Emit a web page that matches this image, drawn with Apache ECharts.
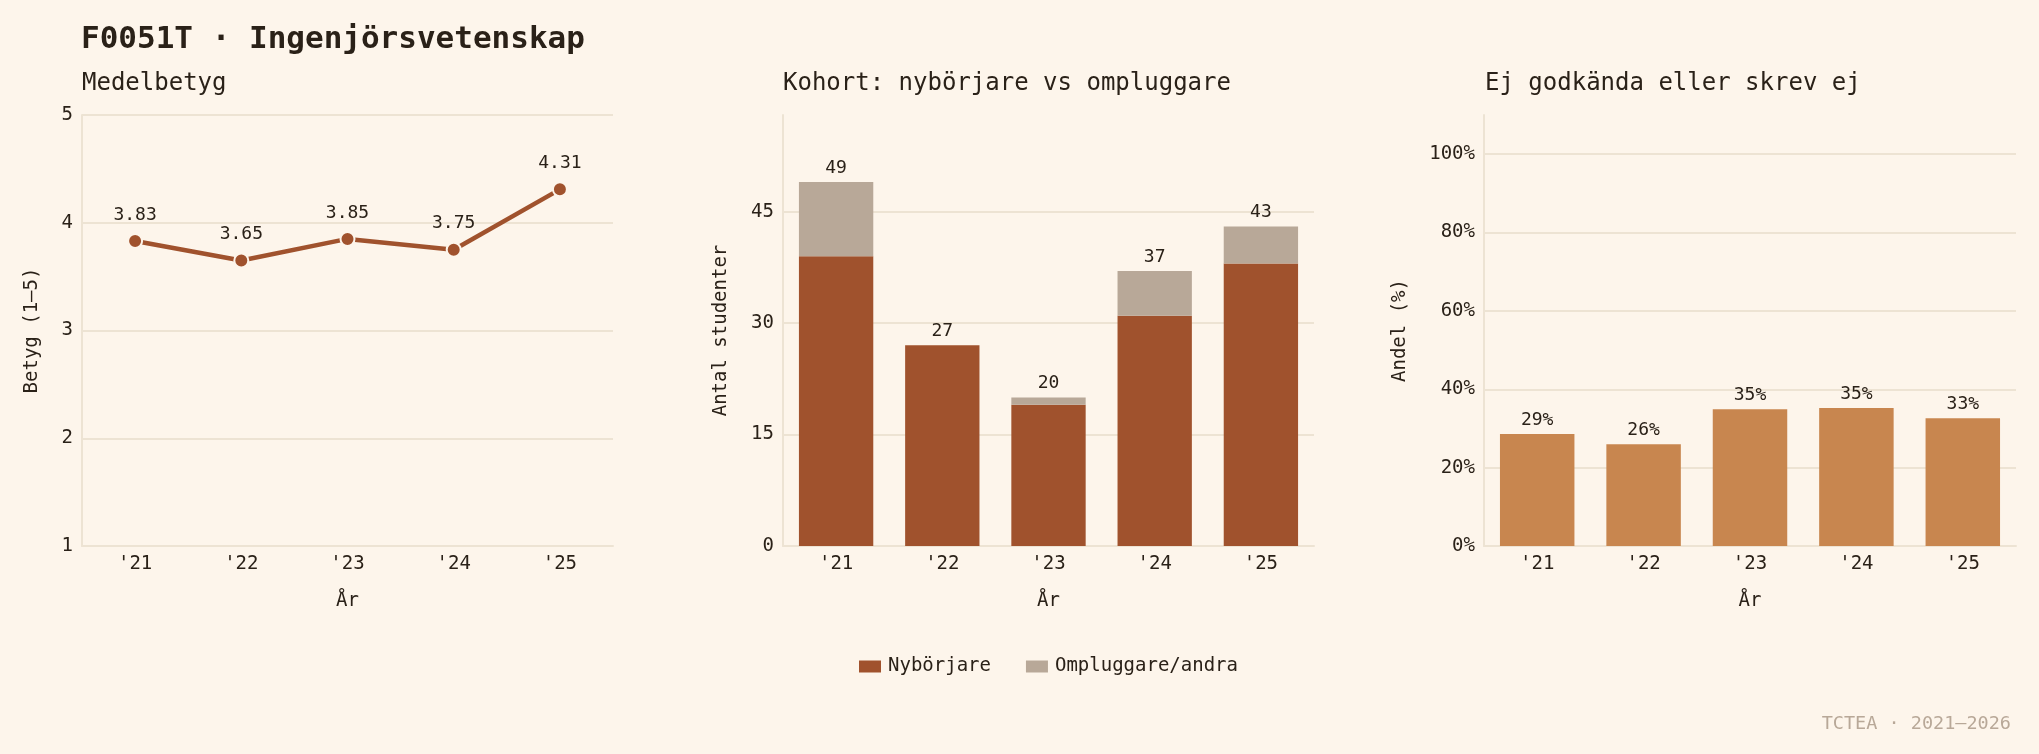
<!DOCTYPE html>
<html>
<head>
<meta charset="utf-8">
<script src="https://cdn.jsdelivr.net/npm/echarts@6/dist/echarts.min.js"></script>
<style>
  html, body { margin: 0; padding: 0; background: #fdf5eb; }
  #main { width: 2039px; height: 754px; }
</style>
</head>
<body>
<div id="main"></div>
<script>
const years = ["'21", "'22", "'23", "'24", "'25"];
const meanGrade = [3.83, 3.65, 3.85, 3.75, 4.31];
const newStudents = [39, 27, 19, 31, 38];
const otherStudents = [10, 0, 1, 6, 5];
const failShare = [28.6, 26.0, 34.9, 35.2, 32.6];

const FONT = 'DejaVu Sans Mono';
const INK = '#2a2118';
const GRID = '#ede3d3';
const BG = '#fdf5eb';
const SIENNA = '#a0522d';
const TAUPE = '#b8a898';
const COPPER = '#c8864f';

const totals = newStudents.map((v, i) => v + otherStudents[i]);

const chart = echarts.init(document.getElementById('main'));

const baseCat = (gi) => ({
  type: 'category', gridIndex: gi, data: years,
  name: 'År', nameLocation: 'middle', nameGap: 46,
  nameTextStyle: { fontFamily: FONT, fontSize: 19, color: INK },
  axisLine: { lineStyle: { color: GRID, width: 2 } },
  axisTick: { show: false },
  axisLabel: { fontFamily: FONT, fontSize: 19, color: INK, margin: 9 }
});

const baseVal = (gi, name, gap) => ({
  type: 'value', gridIndex: gi,
  name: name, nameLocation: 'middle', nameGap: gap,
  nameTextStyle: { fontFamily: FONT, fontSize: 19, color: INK },
  axisLine: { show: true, lineStyle: { color: GRID, width: 2 } },
  axisTick: { show: false },
  splitLine: { lineStyle: { color: GRID, width: 2 } },
  axisLabel: { fontFamily: FONT, fontSize: 19, color: INK, margin: 9 }
});

const option = {
  backgroundColor: BG,
  animation: false,
  title: [
    { text: 'F0051T · Ingenjörsvetenskap', left: 76, top: 19,
      textStyle: { fontFamily: FONT, fontSize: 31, fontWeight: 'bold', color: INK } },
    { text: 'Medelbetyg', left: 77, top: 67,
      textStyle: { fontFamily: FONT, fontSize: 24, fontWeight: 'normal', color: INK } },
    { text: 'Kohort: nybörjare vs ompluggare', left: 778, top: 67,
      textStyle: { fontFamily: FONT, fontSize: 24, fontWeight: 'normal', color: INK } },
    { text: 'Ej godkända eller skrev ej', left: 1480, top: 67,
      textStyle: { fontFamily: FONT, fontSize: 24, fontWeight: 'normal', color: INK } },
    { text: 'TCTEA · 2021–2026', right: 23, top: 710,
      textStyle: { fontFamily: FONT, fontSize: 18.5, fontWeight: 'normal', color: TAUPE } }
  ],
  legend: {
    data: ['Nybörjare', 'Ompluggare/andra'],
    left: 854, top: 652,
    itemWidth: 22, itemHeight: 12, itemGap: 35,
    icon: 'rect',
    textStyle: { fontFamily: FONT, fontSize: 19, color: INK, padding: [0, 0, 0, 2] }
  },
  grid: [
    { left: 82, top: 115, width: 531, height: 431 },
    { left: 783, top: 115, width: 531, height: 431 },
    { left: 1484, top: 115, width: 532, height: 431 }
  ],
  xAxis: [baseCat(0), baseCat(1), baseCat(2)],
  yAxis: [
    Object.assign(baseVal(0, 'Betyg (1–5)', 40), { min: 1, max: 5, interval: 1 }),
    Object.assign(baseVal(1, 'Antal studenter', 52), { min: 0, max: 58, interval: 15,
      splitLine: { showMaxLine: false, lineStyle: { color: GRID, width: 2 } },
      axisLabel: { fontFamily: FONT, fontSize: 19, color: INK, margin: 9, showMaxLabel: false } }),
    Object.assign(baseVal(2, 'Andel (%)', 74), { min: 0, max: 110, interval: 20,
      splitLine: { showMaxLine: false, lineStyle: { color: GRID, width: 2 } },
      axisLabel: { fontFamily: FONT, fontSize: 19, color: INK, margin: 9, showMaxLabel: false,
        formatter: '{value}%' } })
  ],
  series: [
    {
      type: 'line', xAxisIndex: 0, yAxisIndex: 0, data: meanGrade,
      symbol: 'circle', symbolSize: 14,
      lineStyle: { color: SIENNA, width: 4.5 },
      itemStyle: { color: SIENNA, borderColor: BG, borderWidth: 2 },
      label: { show: true, position: 'top', distance: 9, fontFamily: FONT, fontSize: 18, color: INK,
        formatter: p => p.value.toFixed(2) }
    },
    {
      name: 'Nybörjare', type: 'bar', stack: 'kohort', xAxisIndex: 1, yAxisIndex: 1,
      data: newStudents, barWidth: '70%', itemStyle: { color: SIENNA }
    },
    {
      name: 'Ompluggare/andra', type: 'bar', stack: 'kohort', xAxisIndex: 1, yAxisIndex: 1,
      data: otherStudents, barWidth: '70%', itemStyle: { color: TAUPE },
      label: { show: true, position: 'top', distance: 5, fontFamily: FONT, fontSize: 18, color: INK,
        formatter: p => String(totals[p.dataIndex]) }
    },
    {
      type: 'bar', xAxisIndex: 2, yAxisIndex: 2, data: failShare, barWidth: '70%',
      itemStyle: { color: COPPER },
      label: { show: true, position: 'top', distance: 5, fontFamily: FONT, fontSize: 18, color: INK,
        formatter: p => Math.round(p.value) + '%' }
    }
  ]
};

chart.setOption(option);
</script>
</body>
</html>
